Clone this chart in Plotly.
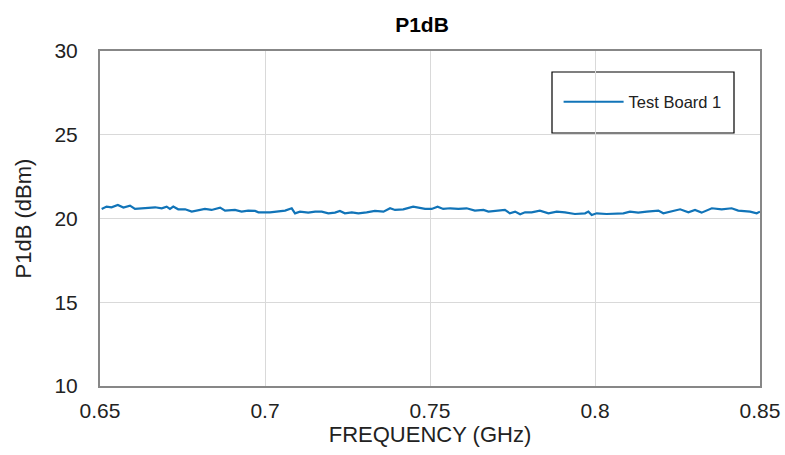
import plotly.graph_objects as go

freq_ghz = [0.6505, 0.6520, 0.6535, 0.6554, 0.6571, 0.6591, 0.6606, 0.6636, 0.6667, 0.6687,
            0.6702, 0.6712, 0.6722, 0.6737, 0.6758, 0.6778, 0.6798, 0.6818, 0.6838, 0.6864,
            0.6879, 0.6909, 0.6929, 0.6949, 0.6970, 0.6980, 0.7015, 0.7035, 0.7061, 0.7081,
            0.7091, 0.7106, 0.7131, 0.7152, 0.7172, 0.7192, 0.7212, 0.7227, 0.7242, 0.7263,
            0.7283, 0.7308, 0.7333, 0.7359, 0.7379, 0.7394, 0.7419, 0.7449, 0.7470, 0.7485,
            0.7505, 0.7523, 0.7540, 0.7561, 0.7586, 0.7611, 0.7636, 0.7662, 0.7677, 0.7697,
            0.7727, 0.7742, 0.7758, 0.7773, 0.7788, 0.7808, 0.7833, 0.7859, 0.7884, 0.7909,
            0.7939, 0.7970, 0.7980, 0.7990, 0.8005, 0.8035, 0.8061, 0.8086, 0.8106, 0.8131,
            0.8157, 0.8192, 0.8207, 0.8227, 0.8258, 0.8283, 0.8303, 0.8323, 0.8354, 0.8384,
            0.8414, 0.8434, 0.8470, 0.8490, 0.8500]
p1db_board1 = [20.57, 20.71, 20.67, 20.81, 20.65, 20.77, 20.57, 20.61, 20.67, 20.61,
               20.71, 20.57, 20.71, 20.55, 20.55, 20.41, 20.51, 20.57, 20.51, 20.65,
               20.47, 20.51, 20.41, 20.47, 20.45, 20.37, 20.37, 20.41, 20.47, 20.61,
               20.31, 20.41, 20.35, 20.41, 20.41, 20.31, 20.35, 20.45, 20.31, 20.37,
               20.31, 20.37, 20.45, 20.41, 20.61, 20.51, 20.55, 20.71, 20.61, 20.57,
               20.57, 20.71, 20.57, 20.61, 20.57, 20.61, 20.47, 20.51, 20.41, 20.45,
               20.51, 20.31, 20.41, 20.25, 20.37, 20.37, 20.47, 20.31, 20.41, 20.37,
               20.27, 20.31, 20.41, 20.21, 20.31, 20.27, 20.27, 20.31, 20.41, 20.35,
               20.41, 20.47, 20.31, 20.41, 20.55, 20.37, 20.51, 20.35, 20.61, 20.55,
               20.61, 20.47, 20.41, 20.31, 20.41]

x_ticks = [0.65, 0.7, 0.75, 0.8, 0.85]
x_tick_text = ["0.65", "0.7", "0.75", "0.8", "0.85"]
y_ticks = [10, 15, 20, 25, 30]

FONT = "Liberation Sans, Arial, sans-serif"
TXT = "#222222"
W, H = 785, 455

fig = go.Figure()
fig.add_trace(go.Scatter(
    x=freq_ghz, y=p1db_board1, mode="lines", name="Test Board 1",
    line=dict(color="#1174b8", width=2.2),
))

fig.update_layout(
    width=W, height=H,
    margin=dict(l=100, r=25, t=51, b=69),
    paper_bgcolor="white", plot_bgcolor="white",
    font=dict(family=FONT, color=TXT),
    title=dict(text="<b>P1dB</b>", x=422 / W, xanchor="center",
               y=1 - 24.5 / H, yanchor="middle",
               font=dict(family=FONT, size=21, color="black")),
    showlegend=True,
    legend=dict(x=0.01 + (552 - 100) / 660, y=(386 - 102) / 335, xanchor="left", yanchor="middle",
                bgcolor="rgba(0,0,0,0)", borderwidth=0,
                font=dict(family=FONT, size=16.5, color=TXT),
                itemwidth=60),
)

fig.add_shape(type="rect", xref="paper", yref="paper",
              x0=(552 - 100) / 660, x1=(734 - 100) / 660,
              y0=(386 - 133) / 335, y1=(386 - 72) / 335,
              line=dict(color="black", width=1.2), fillcolor="white", layer="below")

fig.update_xaxes(
    range=[0.65, 0.85], tickvals=x_ticks, ticktext=x_tick_text,
    showgrid=True, gridcolor="#d9d9d9", gridwidth=1,
    showline=True, linecolor="#878787", linewidth=2, mirror=True,
    ticks="", ticklabelstandoff=5, zeroline=False, automargin=False,
    tickfont=dict(family=FONT, size=21, color=TXT),
    title=dict(text="FREQUENCY (GHz)", font=dict(family=FONT, size=22, color=TXT), standoff=5),
)
fig.update_yaxes(
    range=[10, 30], tickvals=y_ticks,
    showgrid=True, gridcolor="#d9d9d9", gridwidth=1,
    showline=True, linecolor="#878787", linewidth=2, mirror=True,
    ticks="", ticklabelstandoff=16, zeroline=False, automargin=False,
    tickfont=dict(family=FONT, size=21, color=TXT),
    title=dict(text="P1dB (dBm)", font=dict(family=FONT, size=22, color=TXT), standoff=17),
)

fig.write_html(
    "out.html",
    config={"displayModeBar": False},
    post_script="document.body.style.margin='0';document.body.style.overflow='hidden';",
)
